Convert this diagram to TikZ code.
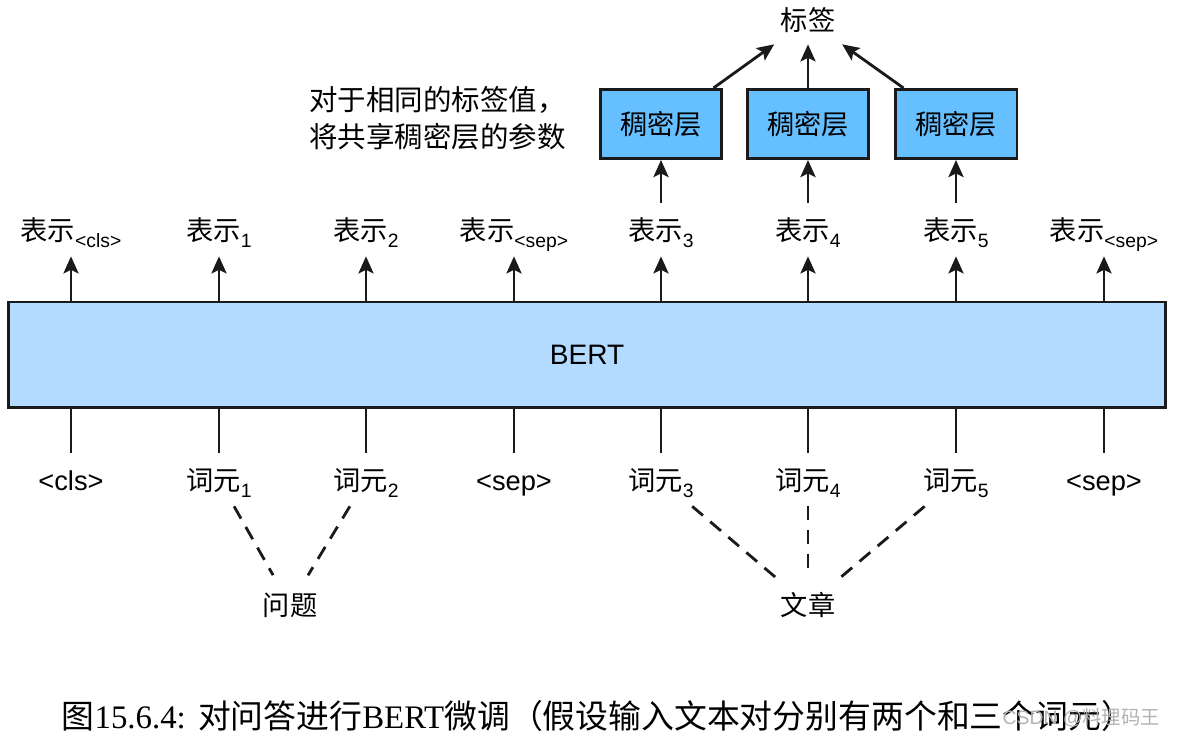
\documentclass[tikz,border=0pt]{standalone}
\usepackage{fontspec}
\setmainfont{Liberation Sans}
\newfontfamily\cjk{Noto Sans CJK SC}
\newfontfamily\capserif{Liberation Serif}
\usetikzlibrary{arrows.meta}
\definecolor{bertfill}{HTML}{B3DAFF}
\definecolor{densefill}{HTML}{66BFFF}
\definecolor{edge}{HTML}{1A1A1A}
\newcommand{\lowidx}[1]{\raisebox{-0.45ex}{\fontsize{11}{11}\selectfont #1}}
\newcommand{\repr}[1]{{\cjk 表示}\lowidx{#1}}
\newcommand{\tokn}[1]{{\cjk 词元}\lowidx{#1}}

\begin{document}
\begin{tikzpicture}[x=0.02cm, y=-0.02cm, font=\fontsize{15.5}{19}\selectfont,
  lbl/.style={anchor=base, text height=0.45cm, text depth=0pt, inner xsep=2pt, inner ysep=0.3cm},
  dense/.style={draw=edge, line width=1.7pt, fill=densefill, minimum width=2.44cm, minimum height=1.38cm, font=\cjk\fontsize{15.5}{19}\selectfont},
  up/.style={-{Stealth[length=0.34cm, width=0.3cm, inset=0.07cm]}, line width=1.6pt, draw=edge},
  tie/.style={line width=1.6pt, draw=edge},
  link/.style={line width=1.6pt, draw=edge, dash pattern=on 8pt off 5.5pt, shorten >=0.26cm}]
\useasboundingbox (0,0) rectangle (1178,739);
\node[draw=edge, line width=1.7pt, fill=bertfill, minimum width=23.16cm, minimum height=2.12cm,
  font=\fontsize{16}{19}\selectfont] (bert) at (587,355) {BERT};
% representations above, tokens below
\foreach \x/\r/\t [count=\i] in {71/\repr{<cls>}/<cls>, 219/\repr{1}/\tokn{1}, 366/\repr{2}/\tokn{2},
    514/\repr{<sep>}/<sep>, 661/\repr{3}/\tokn{3}, 808/\repr{4}/\tokn{4}, 956/\repr{5}/\tokn{5}, 1104/\repr{<sep>}/<sep>} {
  \node[lbl] (r\i) at (\x,241) {\r};
  \node[lbl] (t\i) at (\x,491) {\t};
  \draw[up] (r\i.south |- bert.north) -- (r\i.south);
  \draw[tie] (t\i.north |- bert.south) -- (t\i.north);}
\foreach \x/\k [count=\i] in {661/5, 808/6, 956/7} {
  \node[dense] (d\i) at (\x,124) {稠密层};
  \draw[up] (r\k) -- (d\i);}
\node[minimum width=2cm, minimum height=0.96cm, inner sep=0pt, font=\cjk\fontsize{15.5}{19}\selectfont] (lab) at (808,20) {标签};
\draw[up] ([xshift=-0.2cm]d1.north east) -- (lab);
\draw[up] (d2) -- (lab);
\draw[up] ([xshift=0.2cm]d3.north west) -- (lab);
\node[align=left, anchor=west, inner sep=0pt, font=\cjk\fontsize{16.2}{21}\selectfont] (note) at (309,118.5)
  {对于相同的标签值，\\将共享稠密层的参数};
% question and passage
\node[font=\cjk\fontsize{15.5}{19}\selectfont] (q) at (290,605) {问题};
\node[font=\cjk\fontsize{15.5}{19}\selectfont] (p) at (808,605) {文章};
\draw[link] (t2) -- (q);
\draw[link] (t3) -- (q);
\foreach \i in {5,6,7}
  \draw[link] (t\i) -- (p);
\node[font=\fontsize{18.7}{23}\selectfont] (cap) at (598,716)
  {{\cjk 图}{\capserif 15.6.4:} {\cjk 对问答进行}{\capserif BERT}{\cjk 微调（假设输入文本对分别有两个和三个词元）}};
\node[anchor=east, text=black!30, font=\fontsize{11}{13}\selectfont] (mark) at (1166,718) {CSDN @{\cjk 料理码王}};
\end{tikzpicture}
\end{document}
